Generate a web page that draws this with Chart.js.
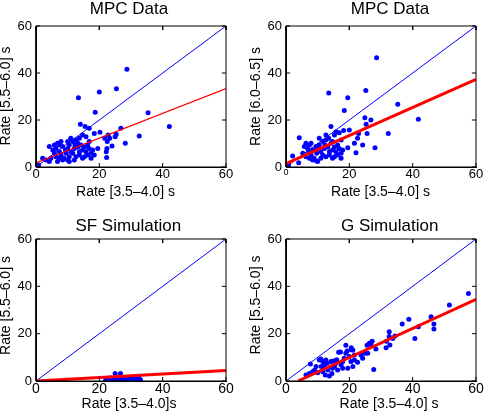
<!DOCTYPE html>
<html>
<head>
<meta charset="utf-8">
<script src="https://cdn.jsdelivr.net/npm/chart.js@4.4.0/dist/chart.umd.min.js"></script>
<style>
body { margin: 0; background: #fff; }
#wrap { position: relative; width: 485px; height: 412px; }
canvas { position: absolute; }
</style>
</head>
<body>
<div id="wrap">
<canvas id="c1" width="242" height="206" style="left:0px;top:0px"></canvas>
<canvas id="c2" width="243" height="206" style="left:242px;top:0px"></canvas>
<canvas id="c3" width="242" height="206" style="left:0px;top:206px"></canvas>
<canvas id="c4" width="243" height="206" style="left:242px;top:206px"></canvas>
</div>
<script>
const tickValues = [0, 20, 40, 60];
const diagonal = [[0, 0], [60, 60]];

// MPC data, rate [3.5-4.0] vs rate [5.5-6.0]
const mpcPoints1 = [[28.7,41.6],[20,31.9],[25.4,33.3],[13.4,29.5],[18.7,23.3],[35.4,23.1],[42.1,17.2],[32.6,13.2],
  [14,18.2],[15.5,17.2],[16.8,16.5],[26.8,16.5],[20.2,14.8],[18.4,14.3],[25.3,13.9],[25,12.9],[23.3,12.2],[21.7,12.2],
  [22.8,13.6],[28.2,10.1],[22.5,10.8],[22.4,7.9],[22.2,6.5],[22.3,4],[24,8.9],[19.5,7.9],[4.2,8.7],[2.1,3.7],[0.8,0.9],
  [6.8,10.1],[7.4,9.4],[6.3,7.9],[8.4,8.7],[10,10.8],[10.5,9.4],[11.6,10.8],[12.6,11.5],[13.2,10.1],[13.7,12.2],
  [12.1,7.9],[11,6.5],[9.5,5.8],[7.9,5.1],[8.9,3.7],[10,3],[6.3,4.4],[4.7,3.7],[4.2,2.3],[5.8,5.8],[14.7,7.2],
  [15.8,6.5],[16.3,5.1],[16.8,7.9],[15.3,4.4],[13.7,5.1],[12.6,4.4],[14.2,9.4],[17.4,5.8],[17.9,7.2],[16.8,10.8],
  [15.8,12.9],[14.7,13.6],[11.6,5.8],[10.5,4.4],[7.4,6.5],[5.3,7.2],[3.2,3],[8.4,3],[6.8,2.3],[12.1,3],[10.5,2.3],
  [13.2,8.5],[15.3,8.5],[9.3,7.2],[7.9,10.8],[11,12.2],[12.3,9.4],[16.3,9.4],[17.4,3.7],[14.7,3.7],[5.8,9.4],
  [10,7.9],[7.4,3.7],[13.7,6.5],[18.4,5.1]];
const mpcFit1 = [[0, 1.7], [60, 33.4]];

// MPC data, rate [3.5-4.0] vs rate [6.0-6.5]
const mpcPoints2 = [[28.6,46.5],[13.5,31.5],[25.2,32.6],[19.5,29.5],[18.4,24],[35.3,26.7],[41.8,20.3],[32.3,14.3],
  [14.2,17.2],[24.9,21],[26.8,20],[25.3,18.2],[20,15.7],[18.2,15.5],[16.8,14.6],[15.8,15],[15.3,13.6],[22.9,14.3],
  [25.6,14.3],[22.6,12.2],[21.6,10.1],[24.2,9.4],[19.5,8.2],[28.1,8.2],[22.1,6.1],[4.2,12.5],[2.1,4.7],[0.8,0.9],
  [4,1.8],[6.3,10.1],[7.4,9.4],[6.8,7.9],[8.4,7.2],[9.5,8.7],[10.5,9.4],[11.6,10.8],[12.6,11.5],[13.5,12.2],
  [14.2,10.1],[12.1,7.9],[11,6.5],[9.7,5.8],[7.9,5.1],[8.9,3.7],[9.7,2.6],[6.3,4.4],[5.3,5.8],[14.7,7.2],[15.8,6.5],
  [16.3,5.1],[16.8,7.9],[15.3,4.4],[13.7,5.1],[12.6,4.4],[17.4,5.8],[17.4,11.5],[16.3,9.4],[13.2,8.5],[15.3,8.5],
  [9.3,7.2],[7.9,10.1],[10.5,12.2],[12.3,9.4],[17.4,3.7],[14.7,3.7],[5.8,8.7],[10,7.9],[7.4,3.7],[13.7,6.5],
  [10,2.3],[8.4,3],[11.6,5.1],[7.2,6.5],[11,3.7],[14.7,10.8],[12.6,13.6],[17.9,7.2]];
const mpcFit2 = [[0, 1.4], [60, 37.3]];

// SF simulation
const sfPoints = [[22,0.4],[22.5,1],[23,0.3],[23.4,1.3],[23.8,0.6],[24.2,1.1],[24.6,0.2],[25,0.8],[25,3.2],
  [25.4,1.4],[25.8,0.5],[26.2,1],[26.7,3.2],[26.6,0.3],[27,1.3],[27.4,0.7],[27.8,0.2],[28.2,1.1],[28.6,0.5],
  [29,1.4],[29.4,0.8],[29.8,0.3],[30.2,1],[30.6,0.6],[31,1.3],[31.4,0.2],[31.8,0.9],[32.2,0.5],[32.6,1.2],
  [33,0.4],[24,0.5],[27.5,1.5],[30,1.5],[28,0.9]];
const sfFit = [[0, 0], [60, 4.4]];

// G simulation
const gPoints = [[57.6,37],[51.6,32.1],[45.8,27.2],[46.7,24.1],[46.7,22],[41.8,22.9],[38.8,26.1],[36.7,24.1],
  [40.7,18],[34.4,19],[33.7,18],[32.6,20.8],[32.6,18.8],[32.8,15.2],[31.6,14.1],[31.7,16.8],[27.2,16.8],[26.8,15.4],
  [25.6,15.1],[26.3,15.9],[27.7,4.9],[24.9,11.7],[23.7,11],[21.6,11],[21.1,13.1],[20.6,14.1],[20.6,13.2],[18.9,15.1],
  [19.3,12.7],[17.2,12.3],[16.6,12.1],[18.9,11.7],[20,10.3],[18.4,9.6],[21.6,8.9],[22.6,7.9],[20.5,8.2],[24.2,9.6],
  [25.8,11.7],[17.9,8.2],[21.1,6.1],[19.5,5.4],[17.9,5.4],[17.4,6.8],[16.3,4.6],[15.8,7.5],[15.3,6.1],[14.7,5.4],
  [14.5,3.2],[14.2,8.2],[13.7,2.1],[13.2,4.6],[12.6,8.9],[12.4,2.5],[12.1,6.8],[11.6,8.2],[11.6,3.9],[11.1,6.1],
  [10.5,8.9],[10,3.5],[9.5,6.1],[8.4,3.9],[7.7,7.2],[7.4,3.2],[6.3,2.5],[12,5.5],[13,7.5],[15,8.5],[16,9],
  [11,9.3],[9,4.5],[28.4,13.5]];
const gFit = [[3.8, 0], [60, 34.5]];

const fontFamily = '"Liberation Sans", Arial, Helvetica, sans-serif';

function toXY(pairs) {
    return pairs.map(p => ({ x: p[0], y: p[1] }));
}

// matlab box around the axes plus short inward ticks, as one broken line
function frameLine() {
    const lo = tickValues[0], hi = tickValues[tickValues.length - 1];
    const tx = 1.3, ty = 1.7;
    const pts = [{ x: lo, y: lo }, { x: hi, y: lo }, { x: hi, y: hi }, { x: lo, y: hi }, { x: lo, y: lo }, { x: lo, y: null }];
    tickValues.forEach(v => {
        pts.push({ x: v, y: lo }, { x: v, y: lo + ty }, { x: v, y: null });
        pts.push({ x: v, y: hi }, { x: v, y: hi - ty }, { x: v, y: null });
        pts.push({ x: lo, y: v }, { x: lo + tx, y: v }, { x: lo + tx, y: null });
        pts.push({ x: hi, y: v }, { x: hi - tx, y: v }, { x: hi - tx, y: null });
    });
    return pts;
}

// panel title and axis labels
const panelText = {
    id: 'panelText',
    afterDraw(chart, args, opts) {
        const ctx = chart.ctx;
        ctx.save();
        ctx.fillStyle = '#000';
        ctx.textAlign = 'center';
        ctx.textBaseline = 'middle';
        ctx.font = '17px ' + fontFamily;
        ctx.fillText(opts.title, opts.titlePos[0], opts.titlePos[1]);
        ctx.font = '14px ' + fontFamily;
        ctx.fillText(opts.xLabel, opts.xLabelPos[0], opts.xLabelPos[1]);
        ctx.translate(opts.yLabelPos[0], opts.yLabelPos[1]);
        ctx.rotate(-Math.PI / 2);
        ctx.fillText(opts.yLabel, 0, 0);
        ctx.restore();
    }
};

function drawPanel(id, p) {
    new Chart(document.getElementById(id), {
        type: 'scatter',
        data: {
            datasets: [
                { data: frameLine(), showLine: true, spanGaps: false, borderColor: '#000', borderWidth: 1, pointRadius: 0, clip: false, order: -1 },
                { data: toXY(diagonal), showLine: true, borderColor: '#0000ff', borderWidth: 1, pointRadius: 0, order: 1 },
                { data: toXY(p.fit), showLine: true, borderColor: '#ff0000', borderWidth: p.fitWidth, pointRadius: 0, order: 0 },
                { data: toXY(p.points), pointRadius: 2.5, backgroundColor: '#0000ff', borderWidth: 0, order: 2 }
            ]
        },
        options: {
            responsive: false,
            animation: false,
            layout: { padding: { top: p.area[2], right: p.w - p.area[1], left: 0, bottom: 0 } },
            plugins: {
                legend: { display: false },
                tooltip: { enabled: false },
                panelText: p.text
            },
            scales: {
                x: {
                    type: 'linear', min: 0, max: 60,
                    afterBuildTicks: s => { s.ticks = tickValues.map(v => ({ value: v })); },
                    afterFit: s => { s.height = p.h - p.area[3]; },
                    grid: { display: false, drawTicks: false },
                    border: { display: true, color: '#000', width: 1 },
                    ticks: { color: '#000', padding: 1, maxRotation: 0, autoSkip: false, font: p.xTickFont }
                },
                y: {
                    type: 'linear', min: 0, max: 60,
                    afterBuildTicks: s => { s.ticks = tickValues.map(v => ({ value: v })); },
                    afterFit: s => { s.width = p.area[0]; },
                    grid: { display: false, drawTicks: false },
                    border: { display: true, color: '#000', width: 1 },
                    ticks: { color: '#000', padding: 4, autoSkip: false, font: { family: fontFamily, size: 13, lineHeight: 1 } }
                }
            }
        },
        plugins: [panelText]
    });
}

drawPanel('c1', {
    w: 242, h: 206, area: [36, 226, 26, 167],
    points: mpcPoints1, fit: mpcFit1, fitWidth: 1.3,
    xTickFont: { family: fontFamily, size: 13, lineHeight: 1 },
    text: { title: 'MPC Data', titlePos: [129, 9], xLabel: 'Rate [3.5–4.0] s', xLabelPos: [125.5, 192],
        yLabel: 'Rate [5.5–6.0] s', yLabelPos: [6, 96] }
});
drawPanel('c2', {
    w: 243, h: 206, area: [44, 234, 26, 167],
    points: mpcPoints2, fit: mpcFit2, fitWidth: 3,
    xTickFont: ctx => ({ family: fontFamily, size: ctx.tick && ctx.tick.value === 0 ? 9 : 13, lineHeight: 1 }),
    text: { title: 'MPC Data', titlePos: [148, 9], xLabel: 'Rate [3.5–4.0] s', xLabelPos: [138.5, 192],
        yLabel: 'Rate [6.0–6.5] s', yLabelPos: [14, 96.5] }
});
drawPanel('c3', {
    w: 242, h: 206, area: [36, 226, 33, 175],
    points: sfPoints, fit: sfFit, fitWidth: 3,
    xTickFont: { family: fontFamily, size: 14, lineHeight: 1 },
    text: { title: 'SF Simulation', titlePos: [128.3, 20], xLabel: 'Rate [3.5–4.0]s', xLabelPos: [129, 198.5],
        yLabel: 'Rate [5.5–6.0] s', yLabelPos: [6, 99.5] }
});
drawPanel('c4', {
    w: 243, h: 206, area: [44, 234, 33, 175],
    points: gPoints, fit: gFit, fitWidth: 3,
    xTickFont: { family: fontFamily, size: 14, lineHeight: 1 },
    text: { title: 'G Simulation', titlePos: [147.7, 20.5], xLabel: 'Rate [3.5–4.0] s', xLabelPos: [147, 198.5],
        yLabel: 'Rate [5.5–6.0] s', yLabelPos: [14, 99] }
});
</script>
</body>
</html>
